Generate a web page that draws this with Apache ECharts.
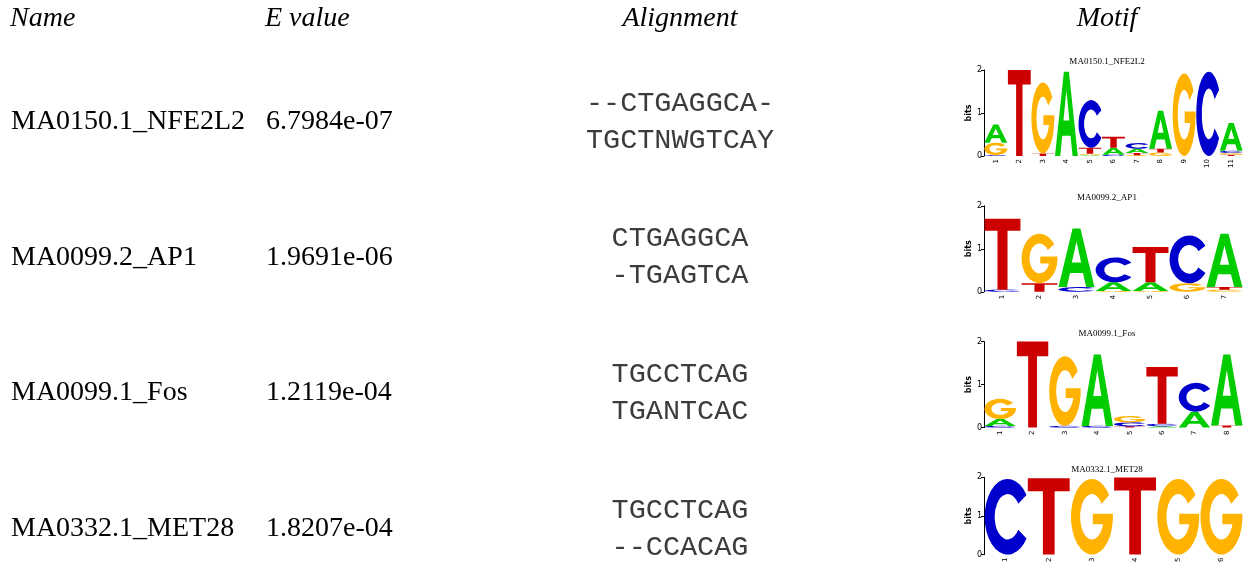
<!DOCTYPE html>
<html>
<head>
<meta charset="utf-8">
<script src="https://cdn.jsdelivr.net/npm/echarts@6/dist/echarts.min.js"></script>
<style>html,body{margin:0;padding:0;background:#fff}#c{width:1254px;height:565px}</style>
</head>
<body>
<div id="c"></div>
<script>
// ---- data ----
const headers = ['Name', 'E value', 'Alignment', 'Motif'];
const names = ['MA0150.1_NFE2L2', 'MA0099.2_AP1', 'MA0099.1_Fos', 'MA0332.1_MET28'];
const evalues = ['6.7984e-07', '1.9691e-06', '1.2119e-04', '1.8207e-04'];
const alignTop = ['--CTGAGGCA-', 'CTGAGGCA', 'TGCCTCAG', 'TGCCTCAG'];
const alignBottom = ['TGCTNWGTCAY', '-TGAGTCA', 'TGANTCAC', '--CCACAG'];
const bitTicks = [0, 1, 2];
// letter stacks per position (bottom to top), heights in bits
const logoNFE2L2 = [
  [['C',0.02],['G',0.29],['A',0.42]],
  [['T',2.0]],
  [['T',0.06],['G',1.65]],
  [['A',1.96]],
  [['A',0.02],['G',0.03],['T',0.14],['C',1.11]],
  [['C',0.03],['A',0.16],['T',0.26]],
  [['G',0.02],['T',0.05],['A',0.10],['C',0.13]],
  [['G',0.08],['T',0.09],['A',0.88]],
  [['G',1.92]],
  [['C',1.96]],
  [['T',0.03],['G',0.04],['C',0.05],['A',0.65]]
];
const logoAP1 = [
  [['C',0.05],['T',1.65]],
  [['T',0.20],['G',1.15]],
  [['C',0.11],['A',1.36]],
  [['G',0.02],['A',0.20],['C',0.58]],
  [['G',0.02],['A',0.20],['T',0.82]],
  [['G',0.20],['C',1.11]],
  [['G',0.05],['T',0.06],['A',1.24]]
];
const logoFos = [
  [['C',0.04],['A',0.16],['G',0.47]],
  [['T',2.0]],
  [['C',0.04],['G',1.62]],
  [['C',0.04],['A',1.66]],
  [['T',0.03],['C',0.09],['G',0.15]],
  [['A',0.03],['C',0.06],['T',1.32]],
  [['A',0.37],['C',0.67]],
  [['T',0.05],['A',1.65]]
];
const logoMET28 = [
  [['C',1.96]],
  [['T',1.98]],
  [['G',1.96]],
  [['T',2.0]],
  [['G',1.96]],
  [['G',1.96]]
];
const logos = [logoNFE2L2, logoAP1, logoFos, logoMET28];

// ---- styling ----
const LETTERS = ['A','C','G','T'];
const COLORS = {A:'#00cc00', C:'#0000cc', G:'#ffb300', T:'#cc0000'};
const GLYPHS = {
  A: 'M39,0 H61 L100,100 H77 L68,76 H32 L23,100 H0 Z M37,58 H63 L50,22 Z',
  C: 'M91.3,21.3 A48,50 0 1 0 91.3,78.7 L74.1,67.2 A27,30 0 1 1 74.1,32.8 Z',
  G: 'M91.3,21.3 A48,50 0 1 0 99.8,54 L99.8,46 L54,46 L54,60 L77.4,60 A27,30 0 1 1 74.1,32.8 Z',
  T: 'M0,0 H100 V17 H64 V100 H36 V17 H0 Z'
};

const rowY0 = 121.5, rowStep = 135.8;
const logoTop0 = 70, logoH = 86;

const serif = '"Liberation Serif", "Times New Roman", serif';
const graphic = [];
const hdrX = [{x:10, a:'left'}, {x:265, a:'left'}, {x:680, a:'center'}, {x:1107, a:'center'}];
headers.forEach((h, i) => {
  graphic.push({type:'text', x:hdrX[i].x, y:19, style:{text:h, font:'italic 28px ' + serif, fill:'#000', align:hdrX[i].a, verticalAlign:'middle'}});
});
names.forEach((n, i) => {
  const y = rowY0 + rowStep * i;
  graphic.push({type:'text', x:11, y:y, style:{text:n, font:'28px ' + serif, fill:'#000', align:'left', verticalAlign:'middle'}});
  graphic.push({type:'text', x:266, y:y, style:{text:evalues[i], font:'28px ' + serif, fill:'#000', align:'left', verticalAlign:'middle'}});
  graphic.push({type:'text', x:680, y:y - 18.5, style:{text:alignTop[i], font:'28.5px "Liberation Mono", monospace', fill:'#3c3c3c', align:'center', verticalAlign:'middle'}});
  graphic.push({type:'text', x:680, y:y + 18.5, style:{text:alignBottom[i], font:'28.5px "Liberation Mono", monospace', fill:'#3c3c3c', align:'center', verticalAlign:'middle'}});
  // logo title
  graphic.push({type:'text', x:1107, y:logoTop0 + rowStep * i - 8, style:{text:n, font:'9px ' + serif, fill:'#000', align:'center', verticalAlign:'middle'}});
});

const grids = [], xAxes = [], yAxes = [], series = [];
logos.forEach((logo, k) => {
  const top = logoTop0 + rowStep * k;
  grids.push({left:984, right:11, top:top, height:logoH});
  xAxes.push({type:'category', gridIndex:k, data:logo.map((_, j) => String(j + 1)),
    boundaryGap:true, axisLine:{show:false}, axisTick:{show:false},
    axisLabel:{rotate:90, fontSize:7, margin:3, color:'#000', fontFamily:'"DejaVu Sans", sans-serif'}});
  yAxes.push({type:'value', gridIndex:k, min:bitTicks[0], max:bitTicks[bitTicks.length - 1], interval:1,
    name:'bits', nameLocation:'middle', nameGap:5, nameRotate:90,
    nameTextStyle:{fontSize:8, fontWeight:'bold', color:'#000', fontFamily:'"DejaVu Sans", sans-serif'},
    axisLine:{show:true, lineStyle:{color:'#000', width:1}},
    axisTick:{show:true, length:3, lineStyle:{color:'#000'}},
    axisLabel:{fontSize:8, margin:2, color:'#000', fontFamily:'"DejaVu Sans", sans-serif'},
    splitLine:{show:false}});
  const data = [];
  logo.forEach((stack, j) => {
    let base = 0;
    stack.forEach(([letter, h]) => {
      data.push([j, base, h, LETTERS.indexOf(letter)]);
      base += h;
    });
  });
  series.push({type:'custom', xAxisIndex:k, yAxisIndex:k, encode:{x:0, y:1}, data:data,
    renderItem: function (params, api) {
      const x = api.value(0), b = api.value(1), h = api.value(2);
      const L = LETTERS[api.value(3)];
      const p0 = api.coord([x, b]);
      const p1 = api.coord([x, b + h]);
      const w = api.size([1, 0])[0] * 0.97;
      const ph = Math.max(p0[1] - p1[1], 0.4);
      return {type:'path', shape:{pathData:GLYPHS[L], x:p0[0] - w / 2, y:p0[1] - ph, width:w, height:ph, layout:'cover'},
        style:{fill:COLORS[L]}};
    }});
});

const chart = echarts.init(document.getElementById('c'), null, {renderer:'canvas'});
chart.setOption({
  animation:false,
  backgroundColor:'#fff',
  grid:grids,
  xAxis:xAxes,
  yAxis:yAxes,
  series:series,
  graphic:graphic
});
</script>
</body>
</html>
